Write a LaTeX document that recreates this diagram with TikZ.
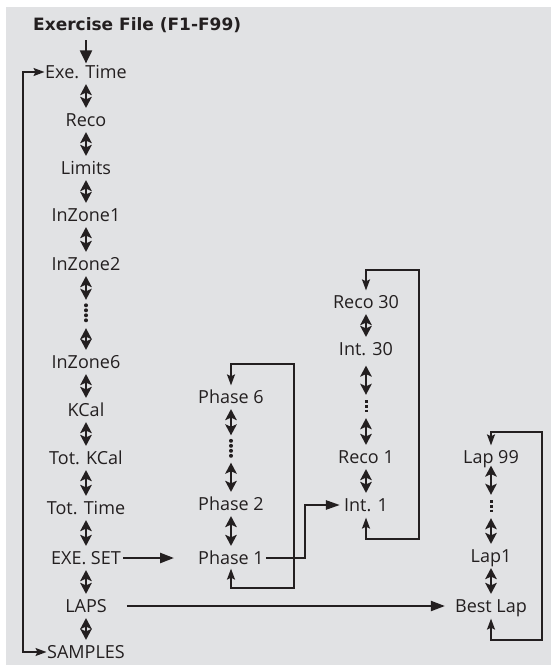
\documentclass[tikz,border=0pt]{standalone}
\usepackage{fontspec}
\setmainfont{Open Sans}
\newfontfamily\titlefont{DejaVu Sans}
\usetikzlibrary{arrows.meta}
\definecolor{bg}{RGB}{225,226,228}
\definecolor{ink}{RGB}{35,31,32}
\tikzset{
  item/.style={inner sep=0pt, text height=12.8pt, text depth=0pt, text=ink,
    font=\fontsize{18}{20}\selectfont},
  ttl/.style={inner sep=0pt, text height=12pt, text depth=0pt, text=ink,
    font=\titlefont\fontsize{17}{20}\selectfont\bfseries},
  dotsnode/.style={inner sep=0pt, minimum width=4pt},
  dbl/.style={draw=ink, line width=2.2pt,
    {Stealth[length=11pt,width=11.5pt,inset=2.5pt]}-{Stealth[length=11pt,width=11.5pt,inset=2.5pt]},
    shorten <=5.5pt, shorten >=5.5pt},
  bigarrow/.style={draw=ink, line width=2.4pt, -{Triangle[length=14pt,width=10pt]}},
  loopline/.style={draw=ink, line width=1.6pt, line join=miter,
    {Stealth[length=11pt,width=8pt,inset=2pt]}-{Stealth[length=11pt,width=8pt,inset=2pt]}},
  rounddots/.style={draw=ink, line width=4pt, line cap=round, dash pattern=on 0pt off 5pt},
  sqdots/.style={draw=ink, line width=3pt, dash pattern=on 2.6pt off 2pt},
}
\begin{document}
\begin{tikzpicture}[x=1pt,y=-1pt]
\useasboundingbox (0,0) rectangle (551,665);
\fill[bg] (6,7) rectangle (551,665);

% title
\node[ttl, anchor=west] (title) at (33,24) {Exercise File (F1-F99)};

% main column
\node[item] (exe)     at (86,72)  {Exe. Time};
\node[item] (reco)    at (86,120) {Reco};
\node[item] (limits)  at (86,168) {Limits};
\node[item] (iz1)     at (86,215) {InZone1};
\node[item] (iz2)     at (86,264) {InZone2};
\node[dotsnode, minimum height=17pt] (mdots) at (86,314) {};
\node[item] (iz6)     at (86,362) {InZone6};
\node[item] (kcal)    at (86,410) {KCal};
\node[item] (totk)    at (86,458) {Tot. KCal};
\node[item] (tott)    at (86,508) {Tot. Time};
\node[item] (exeset)  at (86,558) {EXE. SET};
\node[item] (laps)    at (86,606) {LAPS};
\node[item] (samples) at (86,652) {SAMPLES};

% phase column
\node[item] (ph6) at (231,397) {Phase 6};
\node[dotsnode, minimum height=16pt] (pdots) at (231,449) {};
\node[item] (ph2) at (231,504) {Phase 2};
\node[item] (ph1) at (231,558) {Phase 1};

% interval column
\node[item] (r30) at (366,302) {Reco 30};
\node[item] (i30) at (366,349) {Int. 30};
\node[dotsnode, minimum height=12pt] (idots) at (366,406.5) {};
\node[item] (r1)  at (366,457) {Reco 1};
\node[item] (i1)  at (366,505) {Int. 1};

% lap column
\node[item] (l99) at (491,457) {Lap 99};
\node[dotsnode, minimum height=12pt] (ldots) at (491,506.5) {};
\node[item] (l1)  at (491,556) {Lap1};
\node[item] (bl)  at (491,606) {Best Lap};

% dots
\draw[rounddots] (mdots.north) -- (mdots.south);
\draw[rounddots] (pdots.north) -- (pdots.south);
\draw[sqdots] (idots.north) -- (idots.south);
\draw[sqdots] (ldots.north) -- (ldots.south);

% title arrow
\draw[draw=ink, line width=2pt, -{Triangle[length=13pt,width=12pt]},
      shorten <=10pt, shorten >=2pt] (title.south -| exe) -- (exe.north);

% main column double arrows
\draw[dbl] (exe) -- (reco);
\draw[dbl] (reco.south) -- (limits.north);
\draw[dbl] (limits.south) -- (iz1.north);
\draw[dbl] (iz1.south) -- (iz2.north);
\draw[dbl] (iz2.south) -- (mdots.north);
\draw[dbl] (mdots.south) -- (iz6.north);
\draw[dbl] (iz6.south) -- (kcal.north);
\draw[dbl] (kcal.south) -- (totk.north);
\draw[dbl] (totk.south) -- (tott.north);
\draw[dbl] (tott.south) -- (exeset.north);
\draw[dbl] (exeset.south) -- (laps.north);
\draw[dbl] (laps.south) -- (samples.north);

% phase double arrows
\draw[dbl] (ph6.south) -- (pdots.north);
\draw[dbl] (pdots.south) -- (ph2.north);
\draw[dbl] (ph2.south) -- (ph1.north);

% interval double arrows
\draw[dbl] (r30.south) -- (i30.north);
\draw[dbl, shorten <=10pt] (i30.south) -- (idots.north);
\draw[dbl] (idots.south) -- (r1.north);
\draw[dbl] (r1.south) -- (i1.north);

% lap double arrows
\draw[dbl, shorten <=2pt] (l99.south) -- (ldots.north);
\draw[dbl] (ldots.south) -- (l1.north);
\draw[dbl] (l1.south) -- (bl.north);

% left loop
\draw[loopline, shorten <=0.5pt, shorten >=0.5pt]
  (exe.west) -- (23,72) -- (23,652) -- (samples.west);

% horizontal arrows
\draw[bigarrow, shorten <=2pt, shorten >=24pt] (exeset.east) -- (ph1.west);
\draw[draw=ink, line width=2pt, -{Triangle[length=14pt,width=10pt]},
      shorten <=20pt, shorten >=10pt] (laps.east) -- (bl.west);

% phase loop
\draw[loopline, shorten <=5pt, shorten >=4pt]
  (ph6.north) -- (ph6.north |- 0,364) -- (294,364) -- (294,588)
  -- (ph1.south |- 0,588) -- (ph1.south);

% phase 1 to int 1
\draw[draw=ink, line width=2.4pt, line join=miter, -{Triangle[length=14pt,width=9pt]},
      shorten <=2pt, shorten >=4pt]
  (ph1.east) -- (305,558) -- (305,505) -- (i1.west);

% interval loop
\draw[loopline, shorten <=5pt, shorten >=6pt]
  (r30.north) -- (r30.north |- 0,270) -- (419,270) -- (419,539)
  -- (i1.south |- 0,539) -- (i1.south);

% lap loop
\draw[loopline, shorten <=5pt, shorten >=6pt]
  (l99.north) -- (l99.north |- 0,432) -- (542,432) -- (542,640)
  -- (bl.south |- 0,640) -- (bl.south);
\end{tikzpicture}
\end{document}
